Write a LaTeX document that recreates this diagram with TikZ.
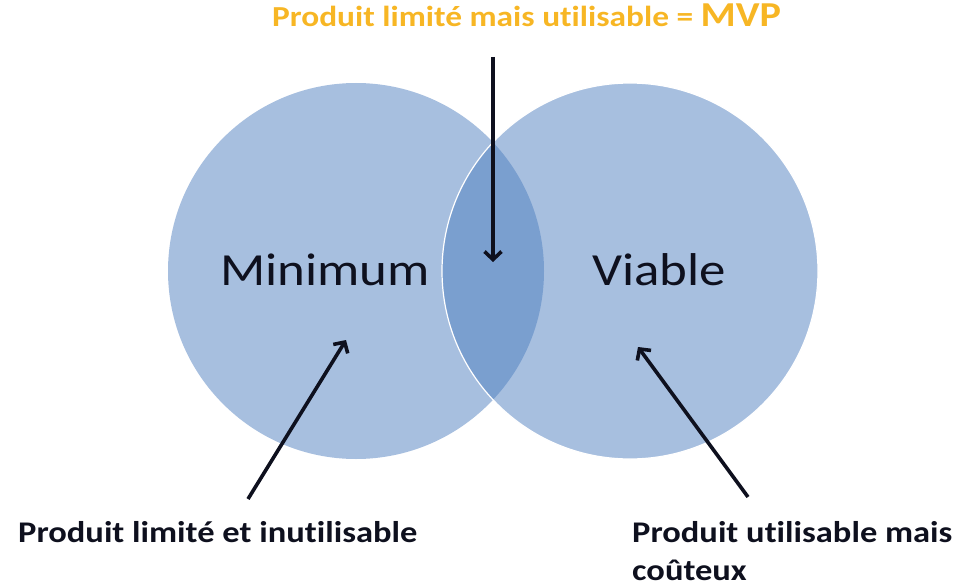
\documentclass[tikz,border=0pt]{standalone}
\usepackage{fontspec}
\setmainfont{Carlito}[FakeStretch=1.15, Ligatures=NoCommon]
\usetikzlibrary{arrows.meta, positioning}
\definecolor{setblue}{RGB}{79,127,191}
\definecolor{mvporange}{RGB}{247,182,36}
\definecolor{inknavy}{RGB}{14,16,30}

\begin{document}
\begin{tikzpicture}[
        x=1pt, y=-1pt, >={Straight Barb[length=8pt,width=17pt]},
        set/.style={circle, minimum size=376pt, inner sep=0pt, fill=setblue, fill opacity=0.5},
        setname/.style={inner sep=0pt, anchor=base west, text=inknavy, font=\fontsize{46}{52}\selectfont},
        caption/.style={inner sep=0pt, anchor=base west, align=left, text=inknavy, font=\bfseries\fontsize{30}{38}\selectfont},
        pointer/.style={->, line width=3.6pt, draw=inknavy},
        ]
        \useasboundingbox (0,0) rectangle (959,586);
        % the two sets, the lens comes from the transparency
        \node[set]                               (set_min) at (356,271) {};
        \node[set, draw=white, line width=1.2pt] (set_via) at (630,271) {};
        \node[setname] (name_min) at (220,285) {Minimum};
        \node[setname] (name_via) at (592,285) {Viable};

        \node[caption, text=mvporange, font=\bfseries\fontsize{29}{34}\selectfont]
              (cap_mvp) at (272,27) {Produit limité mais utilisable = {\fontsize{35}{40}\selectfont MVP}};
        \node[caption] (cap_min) at (18,542)  {Produit limité et inutilisable};
        % base sits on the last line here
        \node[caption] (cap_via) at (632,580) {Produit utilisable mais\\coûteux};

        \coordinate (mvp_tail) at (493,57);
        \coordinate (mvp_tip)  at (493,262);
        \coordinate (min_tail) at (248,499);
        \coordinate (min_tip)  at (346,340);
        \coordinate (via_tail) at (748,497);
        \coordinate (via_tip)  at (638,347);

        \draw[pointer] (mvp_tail) -- (mvp_tip);
        \draw[pointer] (min_tail) -- (min_tip);
        \draw[pointer] (via_tail) -- (via_tip);
      \end{tikzpicture}
\end{document}
